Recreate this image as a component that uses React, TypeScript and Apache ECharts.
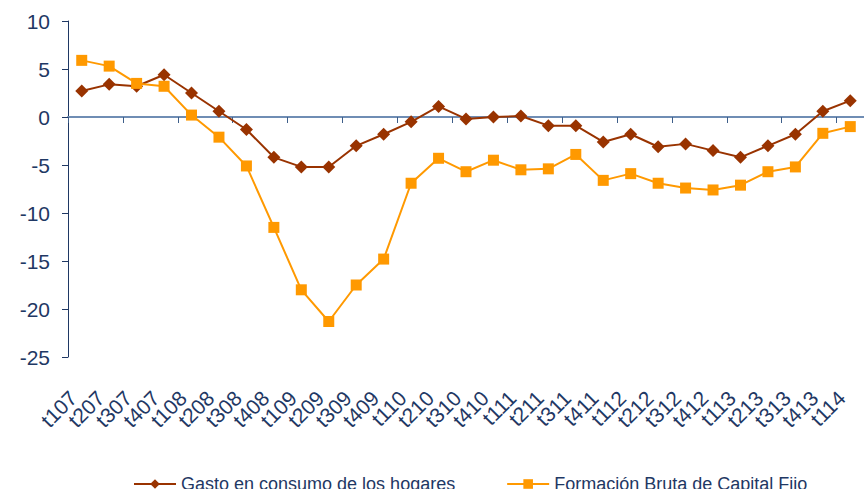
import React, { useEffect, useRef } from "react";
import * as echarts from "echarts";

const categories = [
  "t107", "t207", "t307", "t407", "t108", "t208", "t308", "t408", "t109", "t209",
  "t309", "t409", "t110", "t210", "t310", "t410", "t111", "t211", "t311", "t411",
  "t112", "t212", "t312", "t412", "t113", "t213", "t313", "t413", "t114",
];

const gastoHogares = [
  2.7, 3.4, 3.2, 4.4, 2.5, 0.6, -1.3, -4.2, -5.2, -5.2,
  -3.0, -1.8, -0.5, 1.1, -0.2, 0.0, 0.1, -0.9, -0.9, -2.6,
  -1.8, -3.1, -2.8, -3.5, -4.2, -3.0, -1.8, 0.6, 1.7,
];

const fbcf = [
  5.9, 5.3, 3.5, 3.2, 0.2, -2.1, -5.1, -11.5, -18.0, -21.3,
  -17.5, -14.8, -6.9, -4.3, -5.7, -4.5, -5.5, -5.4, -3.9, -6.6,
  -5.9, -6.9, -7.4, -7.6, -7.1, -5.7, -5.2, -1.7, -1.0,
];

const seriesNames = ["Gasto en consumo de los hogares", "Formación Bruta de Capital Fijo"];

const FONT = "'Liberation Sans', Arial, sans-serif";
const TEXT = "#1F3864";

export default function App() {
  const ref = useRef<HTMLDivElement>(null);
  useEffect(() => {
    if (!ref.current) return;
    const chart = echarts.init(ref.current, undefined, { renderer: "svg" });
    chart.setOption({
      animation: false,
      textStyle: { fontFamily: FONT },
      grid: { left: 68, top: 21, width: 809, height: 336, containLabel: false },
      legend: {
        left: 133,
        top: 475,
        padding: 0,
        itemWidth: 42,
        itemHeight: 12,
        itemGap: 51,
        textStyle: { fontFamily: FONT, fontSize: 18, color: TEXT },
        data: seriesNames,
      },
      xAxis: [
        {
          type: "category",
          data: categories,
          boundaryGap: true,
          axisLine: { onZero: true, lineStyle: { color: "#6F8DB4", width: 2 } },
          axisTick: { show: true, length: 6, lineStyle: { color: "#3E5F8A", width: 1 } },
          axisLabel: { show: false },
          splitLine: { show: false },
        },
        {
          type: "category",
          data: categories,
          position: "bottom",
          boundaryGap: true,
          axisLine: { show: false, onZero: false },
          axisTick: { show: false },
          axisLabel: {
            rotate: 45,
            interval: 0,
            margin: 29,
            fontSize: 21,
            color: TEXT,
            fontFamily: FONT,
            formatter: (v: string) => "{a|" + v + "}",
            rich: {
              a: { fontSize: 21, color: TEXT, fontFamily: FONT, padding: [0, 12, 0, 0] },
            },
          },
          splitLine: { show: false },
        },
      ],
      yAxis: {
        type: "value",
        min: -25,
        max: 10,
        interval: 5,
        axisLine: { show: true, onZero: false, lineStyle: { color: "#1F3864", width: 1 } },
        axisTick: { show: true, length: 6, lineStyle: { color: "#1F3864" } },
        axisLabel: { fontSize: 21, color: TEXT, fontFamily: FONT, margin: 18 },
        splitLine: { show: false },
      },
      series: [
        {
          name: seriesNames[0],
          type: "line",
          xAxisIndex: 0,
          data: gastoHogares,
          symbol: "diamond",
          symbolSize: 13,
          lineStyle: { color: "#993300", width: 2 },
          itemStyle: { color: "#993300" },
        },
        {
          name: seriesNames[1],
          type: "line",
          xAxisIndex: 0,
          data: fbcf,
          symbol: "rect",
          symbolSize: 11,
          lineStyle: { color: "#FF9900", width: 2 },
          itemStyle: { color: "#FF9900" },
        },
      ],
    });
    return () => chart.dispose();
  }, []);
  return (
    <div
      ref={ref}
      style={{ position: "fixed", left: 0, top: 0, width: 864, height: 489, background: "#fff" }}
    />
  );
}
